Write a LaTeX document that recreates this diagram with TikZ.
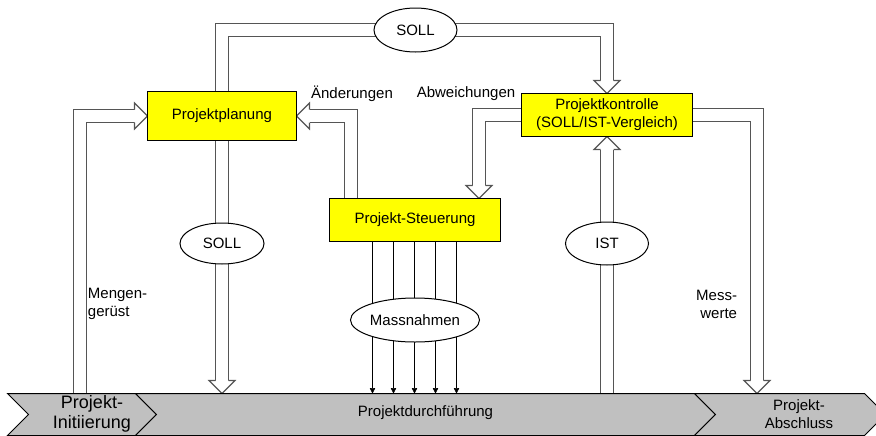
\documentclass[tikz,border=0pt]{standalone}
\usepackage{fontspec}
\setmainfont{Liberation Sans}
\usepackage{xcolor}
\usetikzlibrary{positioning,shapes.geometric,arrows.meta,calc,backgrounds}

\definecolor{boxyellow}{HTML}{FFFF00}
\definecolor{bandgray}{HTML}{C0C0C0}
\definecolor{shaftgray}{HTML}{555555}

\begin{document}
\begin{tikzpicture}[x=0.75pt, y=-0.75pt, line width=0.75pt,
    font=\fontsize{11.25}{13.5}\selectfont,
    box/.style = {draw, fill=boxyellow, align=center, inner sep=0pt, outer sep=0pt},
    oval/.style = {draw, ellipse, fill=white, inner sep=0pt, outer sep=0pt},
    band/.style = {draw, fill=bandgray},
    shaft/.style = {draw=shaftgray, line width=0.9pt, double=white, double distance=8.85pt},
    hollowhead/.pic = {\filldraw[fill=white, draw=shaftgray, line width=0.9pt] (-6.5,-13) -- (-13,-13) -- (0,0) -- (13,-13) -- (6.5,-13);}]
            \useasboundingbox (0,0) rectangle (876,436);
            % Nodes
            \node[box, minimum width=111.75pt, minimum height=36.75pt] (plan) at (222,116) {Projektplanung};
            \node[box, minimum width=128.25pt, minimum height=32.25pt] (kontr) at (607,115) {Projektkontrolle\\(SOLL/IST-Vergleich)};
            \node[box, minimum width=128.25pt, minimum height=32.25pt] (steu) at (415,220) {Projekt-Steuerung};
            \node[oval, minimum width=62.25pt, minimum height=33pt] (sollT) at (415.5,30) {SOLL};
            \node[oval, minimum width=63pt, minimum height=30.75pt] (sollM) [below=61.875pt of plan] {SOLL};
            \node[oval, minimum width=62.25pt, minimum height=32.25pt] (ist) [below=64.125pt of kontr] {IST};
            \node[oval, minimum width=96.75pt, minimum height=33pt] (mass) [below=42.375pt of steu] {Massnahmen};
            % Band
            \coordinate (bandtop) at (0,393.5);
            \begin{scope}
            \clip (0,0) rectangle (876,436);
            \filldraw[band] (7.5,393.5) -- (135.5,393.5) -- (156.5,414.5) -- (135.5,435.5) -- (7.5,435.5) -- (28.5,414.5) -- cycle;
            \filldraw[band] (135.5,393.5) -- (694.5,393.5) -- (715.5,414.5) -- (694.5,435.5) -- (135.5,435.5) -- (156.5,414.5) -- cycle;
            \filldraw[band] (694.5,393.5) -- (864.5,393.5) -- (885.5,414.5) -- (864.5,435.5) -- (694.5,435.5) -- (715.5,414.5) -- cycle;
            \end{scope}
            \node[font=\fontsize{13.5}{15}\selectfont, align=center] (init) at (92,414) {Projekt-\\Initiierung};
            \node (durch) at (425.5,413) {Projektdurchführung};
            \node[align=center] (absch) at (799,414) {Projekt-\\Abschluss};
            % Labels
            \node (aend) at (352,94) {Änderungen};
            \node (abw) at (466,94) {Abweichungen};
            \node[align=left, anchor=west] (meng) at (83,304) {Mengen-\\gerüst};
            \node[align=right, anchor=east] (mess) at (742,304) {Mess-\\werte};
            % Edges
            \coordinate (mengfoot) at (80,393.5);
            \coordinate (messfoot) at (757,393.5);
            \begin{scope}[on background layer]
            \draw[shaft] (plan.north) |- (sollT.center) -| ($(kontr.north)+(0,-13)$);
            \pic at (kontr.north) {hollowhead};
            \draw[shaft] (plan.south) -- ($(plan.south |- bandtop)+(0,-13)$);
            \pic at (plan.south |- bandtop) {hollowhead};
            \draw[shaft] (mengfoot) |- ($(plan.west)+(-13,0)$);
            \pic[rotate=90] at (plan.west) {hollowhead};
            \draw[shaft] ($(steu.north)+(-64,0)$) |- ($(plan.east)+(13,0)$);
            \pic[rotate=-90] at (plan.east) {hollowhead};
            \draw[shaft] (kontr.west) -| ($(steu.north)+(64,-13)$);
            \pic at ($(steu.north)+(64,0)$) {hollowhead};
            \draw[shaft] (kontr.south |- bandtop) -- ($(kontr.south)+(0,13)$);
            \pic[rotate=180] at (kontr.south) {hollowhead};
            \draw[shaft] (kontr.east) -| ($(messfoot)+(0,-13)$);
            \pic at (messfoot) {hollowhead};
            \foreach \dx in {-42.5,-21.5,-0.5,20.5,41.5}
                \draw[-{Triangle[length=4pt,width=4pt]}] ($(steu.south)+(\dx,0)$) -- ($(steu.south |- bandtop)+(\dx,0)$);
            \end{scope}
            \end{tikzpicture}
\end{document}
